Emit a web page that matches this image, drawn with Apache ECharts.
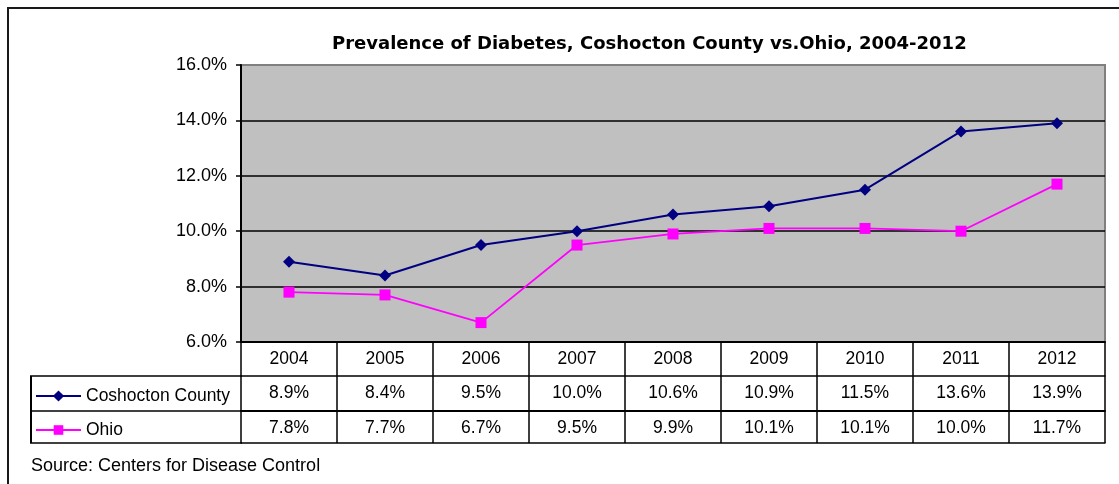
<!DOCTYPE html>
<html>
<head>
<meta charset="utf-8">
<script src="https://cdn.jsdelivr.net/npm/echarts@6/dist/echarts.min.js"></script>
<style>html,body{margin:0;padding:0;background:#fff}#c{width:1119px;height:484px}</style>
</head>
<body>
<div id="c"></div>
<script>
const years = ['2004','2005','2006','2007','2008','2009','2010','2011','2012'];
const coshocton = [8.9, 8.4, 9.5, 10.0, 10.6, 10.9, 11.5, 13.6, 13.9];
const ohio = [7.8, 7.7, 6.7, 9.5, 9.9, 10.1, 10.1, 10.0, 11.7];
const seriesNames = ['Coshocton County', 'Ohio'];
const yTicks = [6, 8, 10, 12, 14, 16];
const titleText = 'Prevalence of Diabetes, Coshocton County vs.Ohio, 2004-2012';
const sourceText = 'Source: Centers for Disease Control';

const FONT = '"Liberation Sans", Arial, sans-serif';
const TFS = 17.5;
const pct = v => v.toFixed(1) + '%';
const chart = echarts.init(document.getElementById('c'), null, {renderer: 'canvas'});

const baseX = {
  type: 'category', position: 'bottom', boundaryGap: true,
  axisTick: {show: false}, splitLine: {show: false},
  axisLabel: {color: '#000', fontSize: TFS, fontFamily: FONT, margin: 8, interval: 0}
};

chart.setOption({
  animation: false,
  title: {
    text: titleText, left: 327, top: 30,
    textStyle: {fontSize: 18, fontWeight: 'bold', color: '#000', fontFamily: '"DejaVu Sans", sans-serif'}
  },
  legend: [
    {data: [seriesNames[0]], orient: 'vertical', left: 30, top: 382, itemWidth: 45, itemHeight: 14, itemGap: 0,
     textStyle: {fontSize: TFS, color: '#000', fontFamily: FONT}},
    {data: [seriesNames[1]], orient: 'vertical', left: 30, top: 416, itemWidth: 45, itemHeight: 12, itemGap: 0,
     textStyle: {fontSize: TFS, color: '#000', fontFamily: FONT}}
  ],
  grid: {
    left: 241, right: 14, top: 65, height: 277,
    show: true, backgroundColor: '#C0C0C0', borderColor: '#808080', borderWidth: 2
  },
  xAxis: [
    Object.assign({}, baseX, {
      data: years, offset: 0,
      axisLine: {show: true, lineStyle: {color: '#000', width: 2}},
      axisTick: {show: true, length: 101, interval: 0, lineStyle: {color: '#000', width: 1.5}}
    }),
    Object.assign({}, baseX, {
      data: coshocton.map(pct), offset: 34,
      axisLine: {show: true, lineStyle: {color: '#000', width: 1.5}}
    }),
    Object.assign({}, baseX, {
      data: ohio.map(pct), offset: 69,
      axisLine: {show: true, lineStyle: {color: '#000', width: 2}}
    }),
    Object.assign({}, baseX, {
      data: years, offset: 101,
      axisLine: {show: true, lineStyle: {color: '#000', width: 1.5}},
      axisLabel: {show: false}
    })
  ],
  yAxis: {
    type: 'value', min: yTicks[0], max: yTicks[yTicks.length - 1], interval: 2,
    axisLine: {show: true, lineStyle: {color: '#000', width: 2}},
    axisTick: {show: true, length: 5, lineStyle: {color: '#000', width: 1.5}},
    axisLabel: {color: '#000', fontSize: 18, fontFamily: FONT, margin: 14, formatter: v => pct(v)},
    splitLine: {show: true, showMaxLine: false, lineStyle: {color: '#000', width: 1.5}}
  },
  graphic: [
    {type: 'rect', z: -10, shape: {x: 8, y: 8, width: 1200, height: 600},
     style: {fill: 'none', stroke: '#1a1a1a', lineWidth: 2}},
    {type: 'line', shape: {x1: 31, y1: 376, x2: 31, y2: 443}, style: {stroke: '#000', lineWidth: 2}},
    {type: 'line', shape: {x1: 30, y1: 376, x2: 242, y2: 376}, style: {stroke: '#000', lineWidth: 1.5}},
    {type: 'line', shape: {x1: 30, y1: 411, x2: 242, y2: 411}, style: {stroke: '#000', lineWidth: 1.5}},
    {type: 'line', shape: {x1: 30, y1: 443, x2: 242, y2: 443}, style: {stroke: '#000', lineWidth: 1.5}},
    {type: 'text', left: 31, top: 457,
     style: {text: sourceText, fontSize: 18, fontFamily: FONT, fill: '#000'}}
  ],
  series: [
    {name: seriesNames[0], type: 'line', xAxisIndex: 0, data: coshocton,
     symbol: 'diamond', symbolSize: 12, color: '#000080',
     lineStyle: {color: '#000080', width: 2}, itemStyle: {color: '#000080'}},
    {name: seriesNames[1], type: 'line', xAxisIndex: 0, data: ohio,
     symbol: 'rect', symbolSize: 11, color: '#FF00FF',
     lineStyle: {color: '#FF00FF', width: 1.8}, itemStyle: {color: '#FF00FF'}}
  ]
});
</script>
</body>
</html>
